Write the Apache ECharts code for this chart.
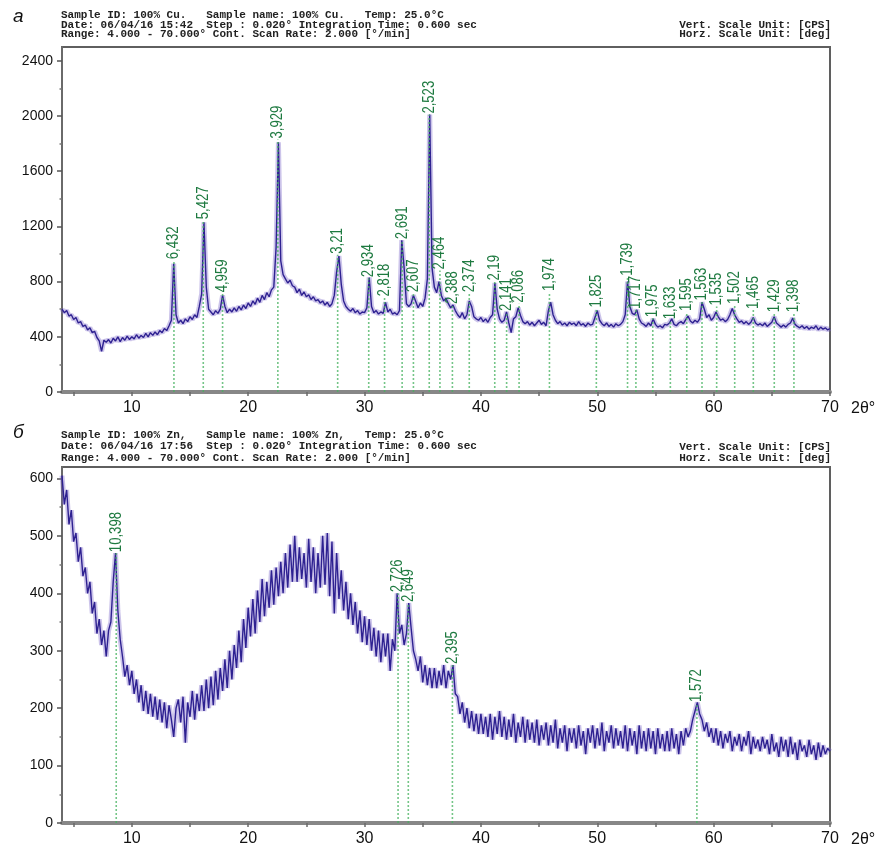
<!DOCTYPE html>
<html>
<head>
<meta charset="utf-8">
<script src="https://cdn.jsdelivr.net/npm/echarts@6/dist/echarts.min.js"></script>
<style>
html, body { margin: 0; padding: 0; background: #ffffff; }
#chart { width: 889px; height: 854px; }
</style>
</head>
<body>
<div id="chart"></div>
<script>
// ---- Sample а: 100% Cu, counts per second every 0.2° of 2θ from 4° to 70° ----
const cuStart = 4;
const cuStep = 0.2;
const cuCounts = [
  600, 575, 590, 550, 560, 525, 540, 500, 510, 475,        // 4.0 – 5.8
  485, 450, 465, 430, 440, 395, 370, 295, 375, 360,        // 6.0 – 7.8
  380, 355, 390, 370, 400, 365, 395, 375, 405, 380,        // 8.0 – 9.8
  400, 385, 415, 390, 410, 395, 425, 400, 430, 410,        // 10.0 – 11.8
  435, 415, 445, 430, 460, 445, 480, 520, 930, 560,        // 12.0 – 13.8
  500, 520, 495, 530, 510, 545, 525, 560, 540, 620,        // 14.0 – 15.8
  710, 1230, 760, 600, 580, 560, 590, 570, 600, 700,       // 16.0 – 17.8
  620, 575, 600, 580, 610, 585, 620, 595, 630, 605,        // 18.0 – 19.8
  645, 620, 660, 635, 680, 650, 700, 670, 720, 690,        // 20.0 – 21.8
  740, 760, 1050, 1810, 950, 850, 820, 790, 810, 770,      // 22.0 – 23.8
  760, 720, 745, 700, 725, 690, 705, 670, 690, 660,        // 24.0 – 25.8
  670, 645, 660, 630, 650, 620, 640, 700, 870, 985,        // 26.0 – 27.8
  780, 660, 620, 600, 585, 605, 575, 590, 565, 580,        // 28.0 – 29.8
  575, 610, 830, 620, 575, 590, 565, 580, 570, 650,        // 30.0 – 31.8
  580, 600, 565, 575, 560, 590, 1100, 900, 640, 620,       // 32.0 – 33.8
  640, 700, 655, 610, 645, 620, 680, 820, 2010, 900,       // 34.0 – 35.8
  760, 720, 800, 700, 660, 680, 640, 610, 630, 590,        // 36.0 – 37.8
  560, 540, 575, 530, 560, 660, 620, 545, 530, 520,        // 38.0 – 39.8
  540, 510, 530, 505, 540, 560, 790, 600, 530, 505,        // 40.0 – 41.8
  520, 580, 500, 430, 530, 545, 610, 555, 510, 495,        // 42.0 – 43.8
  510, 485, 505, 480, 500, 520, 490, 505, 480, 590,        // 44.0 – 45.8
  650, 560, 520, 495, 510, 485, 500, 480, 505, 490,        // 46.0 – 47.8
  500, 480, 510, 485, 495, 475, 500, 485, 490, 540,        // 48.0 – 49.8
  590, 520, 495, 480, 500, 475, 490, 470, 495, 480,        // 50.0 – 51.8
  490, 510, 560, 800, 620, 570, 560, 595, 530, 500,        // 52.0 – 53.8
  490, 475, 500, 480, 530, 490, 470, 480, 465, 490,        // 54.0 – 55.8
  485, 500, 530, 490, 480, 500, 510, 495, 525, 550,        // 56.0 – 57.8
  515, 500, 520, 505, 530, 650, 600, 540, 560, 520,        // 58.0 – 59.8
  540, 580, 545, 520, 530, 510, 525, 560, 605, 560,        // 60.0 – 61.8
  530, 505, 515, 495, 510, 490, 505, 540, 500, 485,        // 62.0 – 63.8
  495, 480, 500, 475, 490, 505, 545, 500, 485, 470,        // 64.0 – 65.8
  485, 470, 490, 500, 535, 490, 475, 465, 480, 460,        // 66.0 – 67.8
  475, 455, 470, 460, 480, 450, 470, 455, 465, 450,        // 68.0 – 69.8
  460                                                      // 70.0
];
const cuPeakAngle = [13.62, 16.14, 17.80, 22.55, 27.69, 30.36, 31.72, 33.23, 34.20, 35.56,
                     36.48, 37.55, 39.00, 41.19, 42.21, 43.28, 45.89, 49.92, 52.60, 53.32,
                     54.77, 56.28, 57.69, 59.00, 60.26, 61.81, 63.41, 65.21, 66.90];
const cuPeakTop = [955, 1245, 715, 1830, 995, 825, 685, 1100, 715, 2010,
                   880, 630, 715, 800, 580, 640, 725, 605, 835, 595,
                   535, 520, 580, 655, 620, 630, 595, 570, 570];
const cuPeakD = ['6,432', '5,427', '4,959', '3,929', '3,21', '2,934', '2,818', '2,691', '2,607', '2,523',
                 '2,464', '2,388', '2,374', '2,19', '2,141', '2,086', '1,974', '1,825', '1,739', '1,717',
                 '1,975', '1,633', '1,595', '1,563', '1,535', '1,502', '1,465', '1,429', '1,398'];
const cuHeader = [
  'Sample ID: 100% Cu.   Sample name: 100% Cu.   Temp: 25.0°C',
  'Date: 06/04/16 15:42  Step : 0.020° Integration Time: 0.600 sec',
  'Range: 4.000 - 70.000° Cont. Scan Rate: 2.000 [°/min]'
];

// ---- Sample б: 100% Zn ----
const znStart = 4;
const znStep = 0.2;
const znCounts = [
  605, 555, 580, 520, 545, 490, 505, 455, 480, 430,        // 4.0 – 5.8
  445, 400, 420, 365, 385, 330, 355, 310, 335, 290,        // 6.0 – 7.8
  335, 350, 420, 470, 370, 320, 290, 255, 275, 240,        // 8.0 – 9.8
  265, 225, 250, 210, 240, 195, 230, 190, 225, 185,        // 10.0 – 11.8
  220, 180, 215, 175, 210, 165, 205, 180, 150, 200,        // 12.0 – 13.8
  215, 175, 220, 140, 210, 185, 230, 180, 225, 195,        // 14.0 – 15.8
  240, 195, 250, 200, 255, 205, 265, 215, 270, 230,        // 16.0 – 17.8
  285, 235, 300, 250, 310, 270, 335, 280, 355, 305,        // 18.0 – 19.8
  375, 325, 390, 330, 405, 350, 425, 360, 420, 375,        // 20.0 – 21.8
  440, 380, 445, 395, 455, 400, 470, 410, 485, 420,        // 22.0 – 23.8
  500, 420, 480, 425, 470, 410, 495, 420, 480, 400,        // 24.0 – 25.8
  470, 410, 500, 415, 505, 395, 490, 365, 470, 390,        // 26.0 – 27.8
  440, 370, 420, 355, 400, 345, 385, 330, 370, 315,        // 28.0 – 29.8
  360, 310, 355, 300, 340, 290, 335, 280, 330, 290,        // 30.0 – 31.8
  330, 265, 320, 300, 400, 330, 345, 310, 330, 383,        // 32.0 – 33.8
  340, 300, 285, 265, 290, 245, 275, 240, 270, 235,        // 34.0 – 35.8
  270, 235, 265, 240, 275, 235, 265, 250, 275, 225,        // 36.0 – 37.8
  220, 190, 210, 175, 200, 165, 195, 160, 190, 155,        // 38.0 – 39.8
  190, 155, 185, 150, 190, 145, 185, 155, 195, 150,        // 40.0 – 41.8
  185, 145, 180, 150, 190, 140, 175, 150, 185, 140,        // 42.0 – 43.8
  180, 145, 175, 140, 180, 135, 170, 145, 175, 135,        // 44.0 – 45.8
  170, 140, 180, 130, 165, 140, 170, 125, 165, 140,        // 46.0 – 47.8
  165, 130, 170, 135, 160, 120, 165, 140, 170, 130,        // 48.0 – 49.8
  165, 135, 175, 125, 160, 140, 170, 130, 165, 135,        // 50.0 – 51.8
  160, 130, 170, 125, 165, 135, 160, 120, 170, 130,        // 52.0 – 53.8
  160, 125, 165, 130, 160, 120, 165, 130, 155, 125,        // 54.0 – 55.8
  160, 125, 165, 130, 155, 120, 160, 135, 165, 150,        // 56.0 – 57.8
  160, 180, 195, 210, 190, 180, 160, 175, 150, 165,        // 58.0 – 59.8
  140, 165, 135, 160, 130, 155, 140, 160, 125, 150,        // 60.0 – 61.8
  135, 155, 125, 150, 135, 160, 120, 150, 130, 145,        // 62.0 – 63.8
  125, 150, 130, 145, 120, 155, 125, 140, 115, 150,        // 64.0 – 65.8
  125, 145, 115, 150, 120, 140, 110, 145, 125, 135,        // 66.0 – 67.8
  115, 145, 120, 135, 110, 140, 115, 135, 120, 130,        // 68.0 – 69.8
  125                                                      // 70.0
];
const znPeakAngle = [8.66, 32.88, 33.76, 37.55, 58.56];
const znPeakTop = [470, 400, 383, 275, 209];
const znPeakD = ['10,398', '2,726', '2,649', '2,395', '1,572'];
const znHeader = [
  'Sample ID: 100% Zn,   Sample name: 100% Zn,   Temp: 25.0°C',
  'Date: 06/04/16 17:56  Step : 0.020° Integration Time: 0.600 sec',
  'Range: 4.000 - 70.000° Cont. Scan Rate: 2.000 [°/min]'
];

const unitLines = ['Vert. Scale Unit: [CPS]', 'Horz. Scale Unit: [deg]'];

// ---- axis ticks ----
const xTicks = [5, 10, 15, 20, 25, 30, 35, 40, 45, 50, 55, 60, 65, 70];
const xLabels = [10, 20, 30, 40, 50, 60, 70];
const cuYLabels = [0, 400, 800, 1200, 1600, 2000, 2400];
const cuYMinor = [200, 600, 1000, 1400, 1800, 2200];
const znYLabels = [0, 100, 200, 300, 400, 500, 600];
const znYMinor = [50, 150, 250, 350, 450, 550];

const SANS = '"Liberation Sans", Arial, sans-serif';
const MONO = '"Liberation Mono", "DejaVu Sans Mono", monospace';

function toPairs(start, step, counts) {
  return counts.map((v, i) => [+(start + i * step).toFixed(2), v]);
}

// dotted marker from the baseline up to a reflection, with its d-spacing written upward
function peakRenderer(labels) {
  return function (params, api) {
    const a = api.value(0);
    const top = api.value(1);
    const p0 = api.coord([a, 0]);
    const p1 = api.coord([a, top]);
    return {
      type: 'group',
      children: [
        {
          type: 'line',
          shape: { x1: p0[0], y1: p0[1], x2: p1[0], y2: p1[1] },
          style: { stroke: 'rgba(70,178,95,0.75)', lineWidth: 1.6, lineDash: [2, 2] }
        },
        {
          type: 'text',
          x: p1[0],
          y: p1[1] - 1,
          rotation: Math.PI / 2,
          scaleX: 0.82,
          style: {
            text: labels[params.dataIndex],
            fill: '#1e7a40',
            fontSize: 16,
            fontFamily: SANS,
            align: 'left',
            verticalAlign: 'middle'
          }
        }
      ]
    };
  };
}

function xAxisFor(gridIndex) {
  return {
    type: 'value', gridIndex: gridIndex, min: 4, max: 70,
    axisLine: { show: true, onZero: false, lineStyle: { color: '#878787', width: 4 } },
    axisTick: { show: true, customValues: xTicks, length: 4, lineStyle: { color: '#6a6a6a', width: 1.5 } },
    axisLabel: { customValues: xLabels, margin: 8, color: '#111', fontFamily: SANS, fontSize: 16 },
    splitLine: { show: false },
    name: '2θ°', nameLocation: 'end', nameGap: 21,
    nameTextStyle: { color: '#111', fontFamily: SANS, fontSize: 16, verticalAlign: 'top', padding: [9, 0, 0, 0] }
  };
}

function yAxisFor(gridIndex, max, labels) {
  return {
    type: 'value', gridIndex: gridIndex, min: 0, max: max, position: 'left',
    axisLine: { show: true, lineStyle: { color: '#6a6a6a', width: 2 } },
    axisTick: { show: true, customValues: labels, length: 5, lineStyle: { color: '#555', width: 1.5 } },
    axisLabel: { customValues: labels, margin: 9, color: '#111', fontFamily: SANS, fontSize: 14,
                 formatter: function (v) { return String(v); } },
    splitLine: { show: false }
  };
}

function yMinorAxisFor(gridIndex, max, minor) {
  return {
    type: 'value', gridIndex: gridIndex, min: 0, max: max, position: 'left',
    axisLine: { show: false },
    axisTick: { show: true, customValues: minor, length: 2.5, lineStyle: { color: '#777', width: 1.5 } },
    axisLabel: { show: false },
    splitLine: { show: false }
  };
}

function traceSeries(name, xi, yi, data) {
  return [
    { name: name + ' halo', type: 'line', xAxisIndex: xi, yAxisIndex: yi, data: data,
      showSymbol: false, symbol: 'none', sampling: false, z: 1, silent: true,
      lineStyle: { color: 'rgba(120,100,200,0.38)', width: 5 } },
    { name: name, type: 'line', xAxisIndex: xi, yAxisIndex: yi, data: data,
      showSymbol: false, symbol: 'none', sampling: false, z: 2,
      lineStyle: { color: '#2e2191', width: 1.4 } }
  ];
}

const headerStyle = { fontFamily: MONO, fontWeight: 'bold', fontSize: 11, color: '#222' };
const letterStyle = { fontFamily: SANS, fontStyle: 'italic', fontWeight: 'normal', fontSize: 19, color: '#111' };

const chart = echarts.init(document.getElementById('chart'));
chart.setOption({
  backgroundColor: '#ffffff',
  animation: false,
  title: [
    { text: 'а', left: 13, top: 7, padding: 0, textStyle: letterStyle },
    { text: cuHeader.join('\n'), left: 61, top: 11, padding: 0,
      textStyle: Object.assign({ lineHeight: 9.4 }, headerStyle) },
    { text: unitLines.join('\n'), right: 58, top: 20.5, padding: 0,
      textStyle: Object.assign({ lineHeight: 9.4 }, headerStyle) },
    { text: 'б', left: 13, top: 423, padding: 0, textStyle: letterStyle },
    { text: znHeader.join('\n'), left: 61, top: 429, padding: 0,
      textStyle: Object.assign({ lineHeight: 11.7 }, headerStyle) },
    { text: unitLines.join('\n'), right: 58, top: 441, padding: 0,
      textStyle: Object.assign({ lineHeight: 11.7 }, headerStyle) }
  ],
  grid: [
    { left: 62, right: 59, top: 47, height: 345, show: true, borderColor: '#5f5f5f', borderWidth: 2, containLabel: false },
    { left: 62, right: 59, top: 467, height: 356, show: true, borderColor: '#5f5f5f', borderWidth: 2, containLabel: false }
  ],
  xAxis: [xAxisFor(0), xAxisFor(1)],
  yAxis: [
    yAxisFor(0, 2500, cuYLabels),
    yMinorAxisFor(0, 2500, cuYMinor),
    yAxisFor(1, 620, znYLabels),
    yMinorAxisFor(1, 620, znYMinor)
  ],
  series: [].concat(
    traceSeries('Cu', 0, 0, toPairs(cuStart, cuStep, cuCounts)),
    [{
      name: 'Cu peaks', type: 'custom', xAxisIndex: 0, yAxisIndex: 0,
      data: cuPeakAngle.map((a, i) => [a, cuPeakTop[i]]),
      renderItem: peakRenderer(cuPeakD), clip: false, z: 3, silent: true
    }],
    traceSeries('Zn', 1, 2, toPairs(znStart, znStep, znCounts)),
    [{
      name: 'Zn peaks', type: 'custom', xAxisIndex: 1, yAxisIndex: 2,
      data: znPeakAngle.map((a, i) => [a, znPeakTop[i]]),
      renderItem: peakRenderer(znPeakD), clip: false, z: 3, silent: true
    }]
  )
});
</script>
</body>
</html>
